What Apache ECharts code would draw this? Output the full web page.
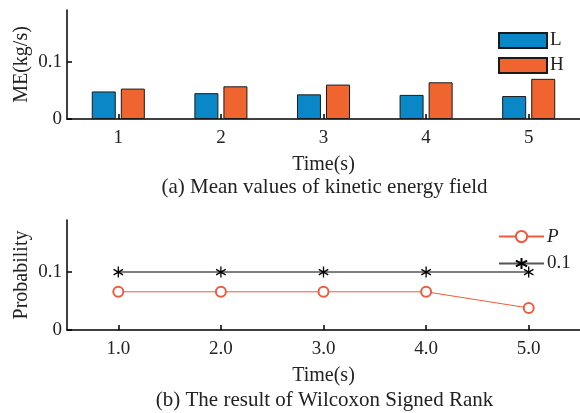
<!DOCTYPE html>
<html>
<head>
<meta charset="utf-8">
<script src="https://cdn.jsdelivr.net/npm/echarts@6/dist/echarts.min.js"></script>
<style>
  html, body { margin: 0; padding: 0; background: #fff; }
  #chart { width: 580px; height: 413px; }
</style>
</head>
<body>
<div id="chart"></div>
<script>
// (a) mean values of kinetic energy field
const timeCats = ["1", "2", "3", "4", "5"];
const lowME = [0.048, 0.045, 0.043, 0.042, 0.040];
const highME = [0.053, 0.057, 0.060, 0.064, 0.070];

// (b) Wilcoxon signed rank result
const timeCatsB = ["1.0", "2.0", "3.0", "4.0", "5.0"];
const pValues = [0.066, 0.066, 0.066, 0.066, 0.038];
const threshold = [0.1, 0.1, 0.1, 0.1, 0.1];

const yTicks = [0, 0.1];

const font = "Liberation Serif";
const blue = "#0a87c7";
const orange = "#f0652f";
const red = "#f05a3c";

let chart = echarts.init(document.getElementById("chart"));

const axisBase = {
  axisLine: { show: true, lineStyle: { color: "#000", width: 1.5 } },
  axisTick: { show: true, inside: true, length: 5, lineStyle: { color: "#000", width: 1.5 } },
  splitLine: { show: false },
  axisLabel: { color: "#222", fontFamily: font, fontSize: 19 },
  nameTextStyle: { color: "#222", fontFamily: font, fontSize: 20 },
  nameMoveOverlap: false
};

function xAxisOf(gridIndex, cats) {
  return Object.assign({}, axisBase, {
    type: "category",
    gridIndex: gridIndex,
    data: cats,
    boundaryGap: true,
    name: "Time(s)",
    nameLocation: "middle",
    nameGap: 36,
    axisTick: Object.assign({}, axisBase.axisTick, { alignWithLabel: true }),
    axisLabel: Object.assign({}, axisBase.axisLabel, { margin: 10 })
  });
}

function yAxisOf(gridIndex, name) {
  return Object.assign({}, axisBase, {
    type: "value",
    gridIndex: gridIndex,
    min: 0,
    max: 0.19,
    interval: 0.1,
    name: name,
    nameLocation: "middle",
    nameGap: 35,
    axisTick: Object.assign({}, axisBase.axisTick, { customValues: yTicks }),
    axisLabel: Object.assign({}, axisBase.axisLabel, { customValues: yTicks, margin: 5 })
  });
}

// asterisk marker
const star = "path://M0,-5L0,5M-4.33,-2.5L4.33,2.5M-4.33,2.5L4.33,-2.5";

let option = {
  backgroundColor: "#fff",
  animation: false,
  grid: [
    { left: 67, top: 10, width: 515, height: 109 },
    { left: 67, top: 220, width: 515, height: 110 }
  ],
  xAxis: [xAxisOf(0, timeCats), xAxisOf(1, timeCatsB)],
  yAxis: [yAxisOf(0, "ME(kg/s)"), yAxisOf(1, "Probability")],
  legend: [
    {
      data: ["L", "H"],
      left: 498,
      top: 31,
      padding: 0,
      orient: "vertical",
      icon: "rect",
      itemWidth: 48,
      itemHeight: 15,
      itemGap: 6,
      textStyle: { color: "#222", fontFamily: font, fontSize: 19, padding: [0, 0, 0, -2] }
    },
    {
      data: [{ name: "P", textStyle: { fontStyle: "italic" } }, "0.1"],
      left: 498,
      top: 227,
      padding: 0,
      orient: "vertical",
      itemWidth: 45,
      itemHeight: 14,
      itemGap: 8,
      textStyle: { color: "#222", fontFamily: font, fontSize: 19, padding: [0, 0, 0, -2] }
    }
  ],
  graphic: [
    {
      type: "text",
      x: 324.5,
      y: 187,
      style: {
        text: "(a) Mean values of kinetic energy field",
        fontFamily: font,
        fontSize: 21,
        fill: "#222",
        textAlign: "center",
        textVerticalAlign: "middle"
      }
    },
    {
      type: "text",
      x: 324.5,
      y: 400,
      style: {
        text: "(b) The result of Wilcoxon Signed Rank",
        fontFamily: font,
        fontSize: 21,
        fill: "#222",
        textAlign: "center",
        textVerticalAlign: "middle"
      }
    }
  ],
  series: [
    {
      name: "L",
      type: "bar",
      xAxisIndex: 0,
      yAxisIndex: 0,
      barWidth: 24,
      barGap: "21%",
      itemStyle: { color: blue, borderColor: "#1a1a1a", borderWidth: 1 },
      data: lowME
    },
    {
      name: "H",
      type: "bar",
      xAxisIndex: 0,
      yAxisIndex: 0,
      barWidth: 24,
      itemStyle: { color: orange, borderColor: "#1a1a1a", borderWidth: 1 },
      data: highME
    },
    {
      name: "P",
      type: "line",
      xAxisIndex: 1,
      yAxisIndex: 1,
      symbol: "emptyCircle",
      symbolSize: 10,
      lineStyle: { color: red, width: 1 },
      itemStyle: { color: red, borderColor: red, borderWidth: 1 },
      data: pValues
    },
    {
      name: "0.1",
      type: "line",
      xAxisIndex: 1,
      yAxisIndex: 1,
      symbol: star,
      symbolSize: 11,
      symbolKeepAspect: true,
      lineStyle: { color: "#555", width: 1.5 },
      itemStyle: { color: "#000", borderColor: "#000", borderWidth: 1.3 },
      data: threshold
    }
  ]
};

chart.setOption(option);

window.addEventListener("resize", function() {
  chart.resize();
});
</script>
</body>
</html>
